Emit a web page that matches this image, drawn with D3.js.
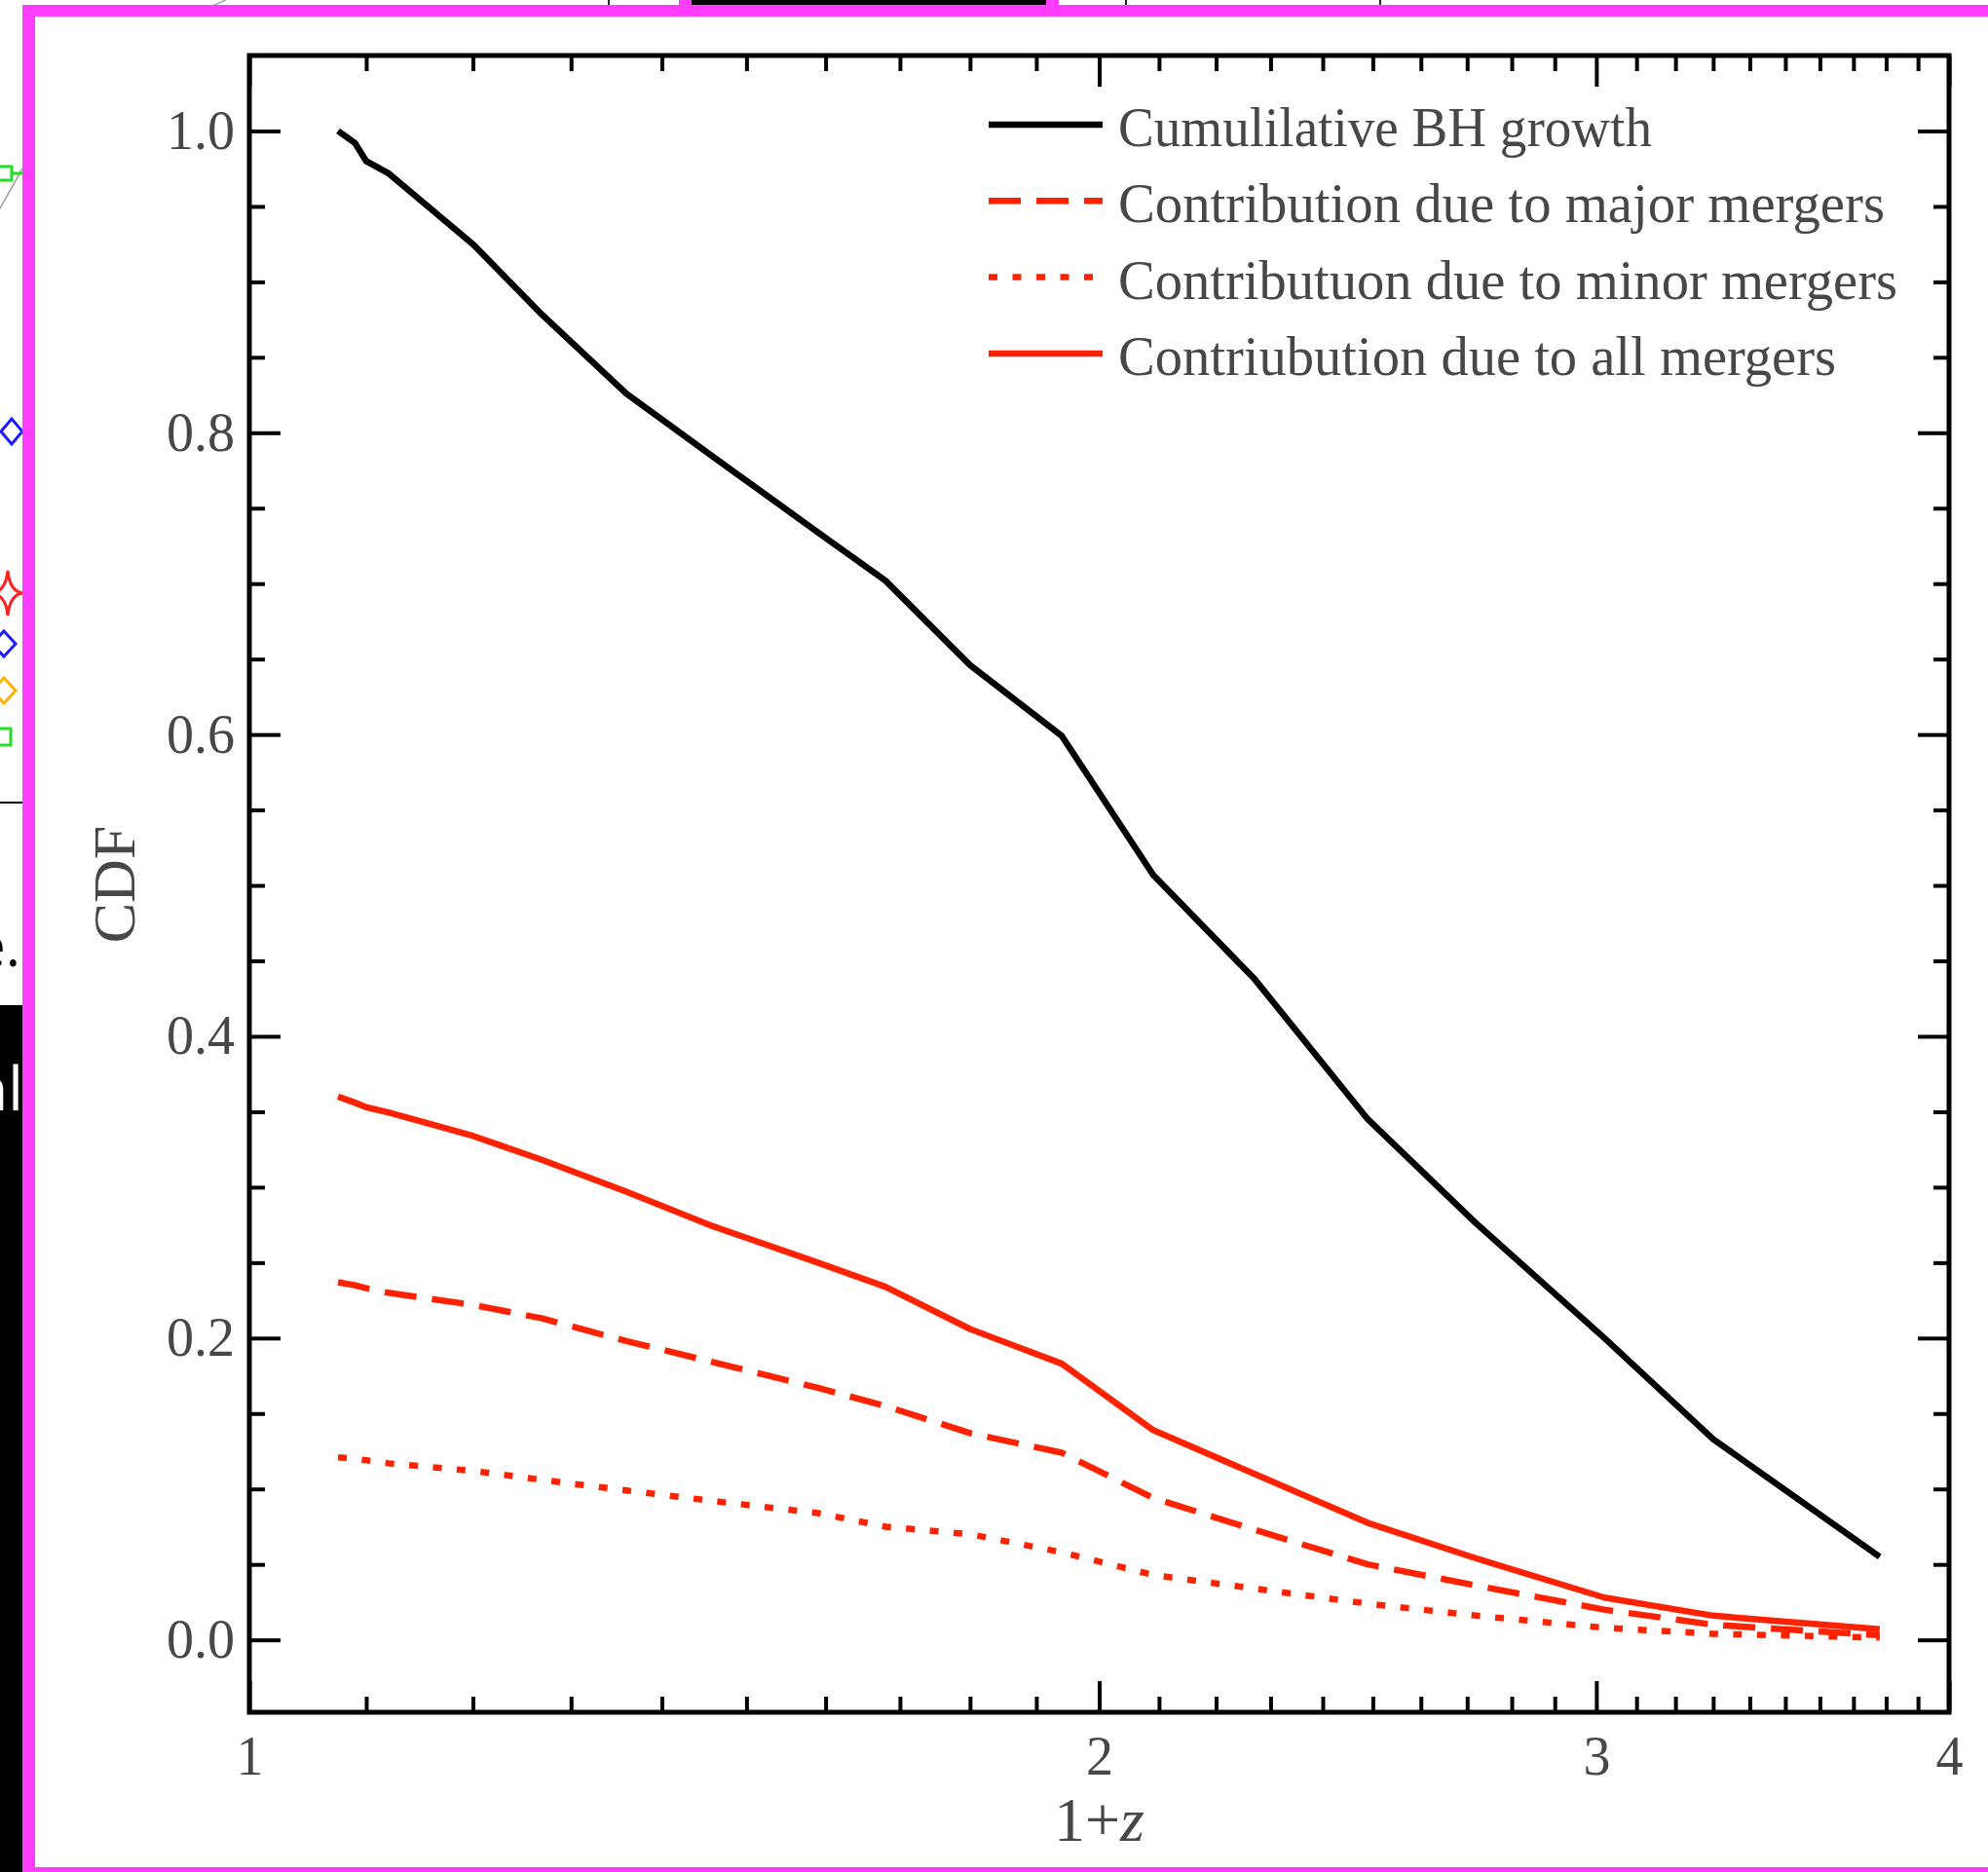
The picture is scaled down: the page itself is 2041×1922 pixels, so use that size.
<!DOCTYPE html>
<html>
<head>
<meta charset="UTF-8">
<style>
  body { margin: 0; background: #fff; }
  svg { display: block; }
  .serif { font-family: "Liberation Serif", "DejaVu Serif", serif; fill: #474747; }
</style>
</head>
<body>
<svg></svg>
<script src="https://d3js.org/d3.v7.min.js"></script>
<script>

let width = 2041, height = 1922;

// data: 1+z of each snapshot and the CDF values
let onePlusZ     = [1.075, 1.09, 1.10, 1.12, 1.20, 1.27, 1.36, 1.46, 1.59, 1.68, 1.80, 1.94, 2.09, 2.27, 2.49, 2.72, 3.02, 3.30, 3.78];
let cumulative   = [1.000, 0.992, 0.980, 0.972, 0.925, 0.878, 0.826, 0.784, 0.734, 0.702, 0.646, 0.599, 0.507, 0.438, 0.345, 0.276, 0.200, 0.133, 0.055];
let majorMergers = [0.237, 0.235, 0.233, 0.230, 0.222, 0.213, 0.198, 0.184, 0.167, 0.155, 0.137, 0.124, 0.094, 0.073, 0.050, 0.036, 0.020, 0.010, 0.003];
let minorMergers = [0.121, 0.120, 0.119, 0.117, 0.112, 0.106, 0.099, 0.092, 0.084, 0.075, 0.070, 0.058, 0.043, 0.034, 0.024, 0.016, 0.008, 0.004, 0.0015];
let allMergers   = [0.360, 0.356, 0.353, 0.3495, 0.334, 0.318, 0.297, 0.274, 0.250, 0.234, 0.206, 0.183, 0.139, 0.110, 0.0775, 0.054, 0.028, 0.016, 0.007];

let seriesNames = ["Cumulilative BH growth", "Contribution due to major mergers",
                   "Contributuon due to minor mergers", "Contriubution due to all mergers"];

let xMajor = [1, 2, 3, 4];
let yMajor = [0.0, 0.2, 0.4, 0.6, 0.8, 1.0];

let svg = d3.select("svg")
    .attr("width", width)
    .attr("height", height)
    .attr("viewBox", "0 0 " + width + " " + height);

svg.append("rect").attr("width", width).attr("height", height).attr("fill", "#fff");

// ---- bits of the neighbouring screen (cropped screenshot) ----
let pink = "#ff3dff";
svg.append("defs").append("clipPath").attr("id", "strip")
    .append("rect").attr("x", 0).attr("y", 0).attr("width", 23).attr("height", height);

let deco = svg.append("g").attr("id", "deco");
let strip = deco.append("g").attr("clip-path", "url(#strip)");
strip.append("rect").attr("x", 0).attr("y", 1032).attr("width", 23).attr("height", 890).attr("fill", "#000");
strip.append("text").attr("x", 24).attr("y", 1140).attr("fill", "#fff").attr("text-anchor", "end")
    .style("font-family", "'Open Sans', sans-serif").style("font-size", "62px").text("nl");
strip.append("text").attr("x", 21).attr("y", 992).attr("fill", "#000").attr("text-anchor", "end")
    .style("font-family", "'Open Sans', sans-serif").style("font-size", "58px").text("e.");
strip.append("line").attr("x1", 0).attr("x2", 23).attr("y1", 824).attr("y2", 824).attr("stroke", "#000").attr("stroke-width", 2);
strip.append("line").attr("x1", 0).attr("x2", 23).attr("y1", 214).attr("y2", 173).attr("stroke", "#999").attr("stroke-width", 1.5);
strip.append("rect").attr("x", -2).attr("y", 171).attr("width", 14).attr("height", 14).attr("fill", "none").attr("stroke", "#22dd22").attr("stroke-width", 3);
strip.append("line").attr("x1", 12).attr("x2", 23).attr("y1", 178).attr("y2", 178).attr("stroke", "#22dd22").attr("stroke-width", 3);
strip.append("rect").attr("x", -2).attr("y", 748).attr("width", 13).attr("height", 17).attr("fill", "none").attr("stroke", "#22dd22").attr("stroke-width", 3);
function diamond(cx, cy, rx, ry, col) {
    strip.append("path").attr("d", `M${cx - rx},${cy}L${cx},${cy - ry}L${cx + rx},${cy}L${cx},${cy + ry}Z`)
        .attr("fill", "none").attr("stroke", col).attr("stroke-width", 3);
}
diamond(12, 443, 11, 13, "#1a1aff");
diamond(4, 661, 12, 13, "#1a1aff");
diamond(4, 709, 12, 13, "#ffb300");
strip.append("path").attr("d", "M8,586Q10,607 23,609Q10,611 8,632Q6,611 -8,609Q6,607 8,586Z")
    .attr("fill", "none").attr("stroke", "#ff2020").attr("stroke-width", 3);
deco.append("rect").attr("x", 697).attr("y", 0).attr("width", 390).attr("height", 6).attr("fill", pink);
deco.append("rect").attr("x", 710).attr("y", 0).attr("width", 364).attr("height", 5).attr("fill", "#000");
deco.append("line").attr("x1", 218).attr("x2", 232).attr("y1", 6).attr("y2", 0).attr("stroke", "#aaa").attr("stroke-width", 1.5);
[625, 1156, 1417].forEach(px => deco.append("line").attr("x1", px).attr("x2", px).attr("y1", 0).attr("y2", 5).attr("stroke", "#222").attr("stroke-width", 2));
// pink frame
deco.append("rect").attr("x", 23).attr("y", 5).attr("width", 13).attr("height", height - 5).attr("fill", pink);
deco.append("rect").attr("x", 23).attr("y", 5).attr("width", width - 23).attr("height", 12).attr("fill", pink);
deco.append("rect").attr("x", 23).attr("y", 1917).attr("width", width - 23).attr("height", 5).attr("fill", pink);

// ---- plot ----
let plotLeft = 256, plotRight = 2001, plotTop = 57, plotBottom = 1758;

let x = d3.scaleLog().domain([1, 4]).range([plotLeft, plotRight]);
let y = d3.scaleLinear().domain([-0.048, 1.05]).range([plotBottom, plotTop]);

let xMinor = d3.range(1.1, 3.95, 0.1).map(v => +v.toFixed(1)).filter(v => xMajor.indexOf(v) < 0);
let yMinor = d3.range(0.05, 1.0, 0.05).map(v => +v.toFixed(2)).filter(v => yMajor.indexOf(v) < 0);

function styleAxis(g) {
    g.select(".domain").remove();
    g.selectAll(".tick line").attr("stroke", "#000").attr("stroke-width", 4);
    g.selectAll(".tick text").attr("class", "serif").style("font-size", "56px").attr("fill", null);
}

let axes = svg.append("g").attr("id", "axes");

axes.append("g").attr("transform", `translate(0,${plotBottom})`)
    .call(d3.axisBottom(x).tickValues(xMajor).tickFormat(d3.format("d")).tickSize(-32).tickPadding(24))
    .call(styleAxis);
axes.append("g").attr("transform", `translate(0,${plotBottom})`)
    .call(d3.axisBottom(x).tickValues(xMinor).tickFormat("").tickSize(-16))
    .call(styleAxis);
axes.append("g").attr("transform", `translate(0,${plotTop})`)
    .call(d3.axisTop(x).tickValues(xMajor).tickFormat("").tickSize(-32))
    .call(styleAxis);
axes.append("g").attr("transform", `translate(0,${plotTop})`)
    .call(d3.axisTop(x).tickValues(xMinor).tickFormat("").tickSize(-16))
    .call(styleAxis);

axes.append("g").attr("transform", `translate(${plotLeft},0)`)
    .call(d3.axisLeft(y).tickValues(yMajor).tickFormat(d3.format(".1f")).tickSize(-32).tickPadding(15))
    .call(styleAxis);
axes.append("g").attr("transform", `translate(${plotLeft},0)`)
    .call(d3.axisLeft(y).tickValues(yMinor).tickFormat("").tickSize(-16))
    .call(styleAxis);
axes.append("g").attr("transform", `translate(${plotRight},0)`)
    .call(d3.axisRight(y).tickValues(yMajor).tickFormat("").tickSize(-32))
    .call(styleAxis);
axes.append("g").attr("transform", `translate(${plotRight},0)`)
    .call(d3.axisRight(y).tickValues(yMinor).tickFormat("").tickSize(-16))
    .call(styleAxis);

axes.append("rect")
    .attr("x", plotLeft).attr("y", plotTop)
    .attr("width", plotRight - plotLeft).attr("height", plotBottom - plotTop)
    .attr("fill", "none").attr("stroke", "#000").attr("stroke-width", 5);

// axis titles
svg.append("text").attr("class", "serif")
    .attr("x", x(2)).attr("y", 1890)
    .attr("text-anchor", "middle")
    .style("font-size", "64px")
    .call(t => {
        t.append("tspan").text("1+");
        t.append("tspan").style("font-style", "italic").text("z");
    });

svg.append("text").attr("class", "serif")
    .attr("transform", "translate(138,908) rotate(-90)")
    .attr("text-anchor", "middle")
    .style("font-size", "62px")
    .text("CDF");

// ---- curves ----
let series = [
    { name: seriesNames[0], values: cumulative,   color: "#000",    dash: null },
    { name: seriesNames[1], values: majorMergers, color: "#ff2200", dash: "33,16" },
    { name: seriesNames[2], values: minorMergers, color: "#ff2200", dash: "9,15.5" },
    { name: seriesNames[3], values: allMergers,   color: "#ff2200", dash: null }
];

let line = d3.line()
    .x(d => x(d[0]))
    .y(d => y(d[1]));

svg.append("g").attr("id", "lines")
    .selectAll("path")
    .data(series)
    .enter()
    .append("path")
    .attr("d", d => line(d3.zip(onePlusZ, d.values)))
    .attr("fill", "none")
    .attr("stroke", d => d.color)
    .attr("stroke-width", 6.5)
    .attr("stroke-linejoin", "round")
    .attr("stroke-dasharray", d => d.dash);

// ---- legend ----
let legendWidths = [548, 787, 800, 737];
let legend = svg.append("g").attr("id", "legend")
    .selectAll("g")
    .data(series)
    .enter()
    .append("g")
    .attr("transform", (d, i) => `translate(1015,${128 + i * 78.3})`);

legend.append("line")
    .attr("x1", 0).attr("x2", 117)
    .attr("stroke", d => d.color)
    .attr("stroke-width", 6.5)
    .attr("stroke-dasharray", d => d.dash);

legend.append("text")
    .attr("class", "serif")
    .attr("x", 133).attr("y", 22)
    .style("font-size", "57px")
    .attr("textLength", (d, i) => legendWidths[i])
    .attr("lengthAdjust", "spacingAndGlyphs")
    .text(d => d.name);

</script>
</body>
</html>
